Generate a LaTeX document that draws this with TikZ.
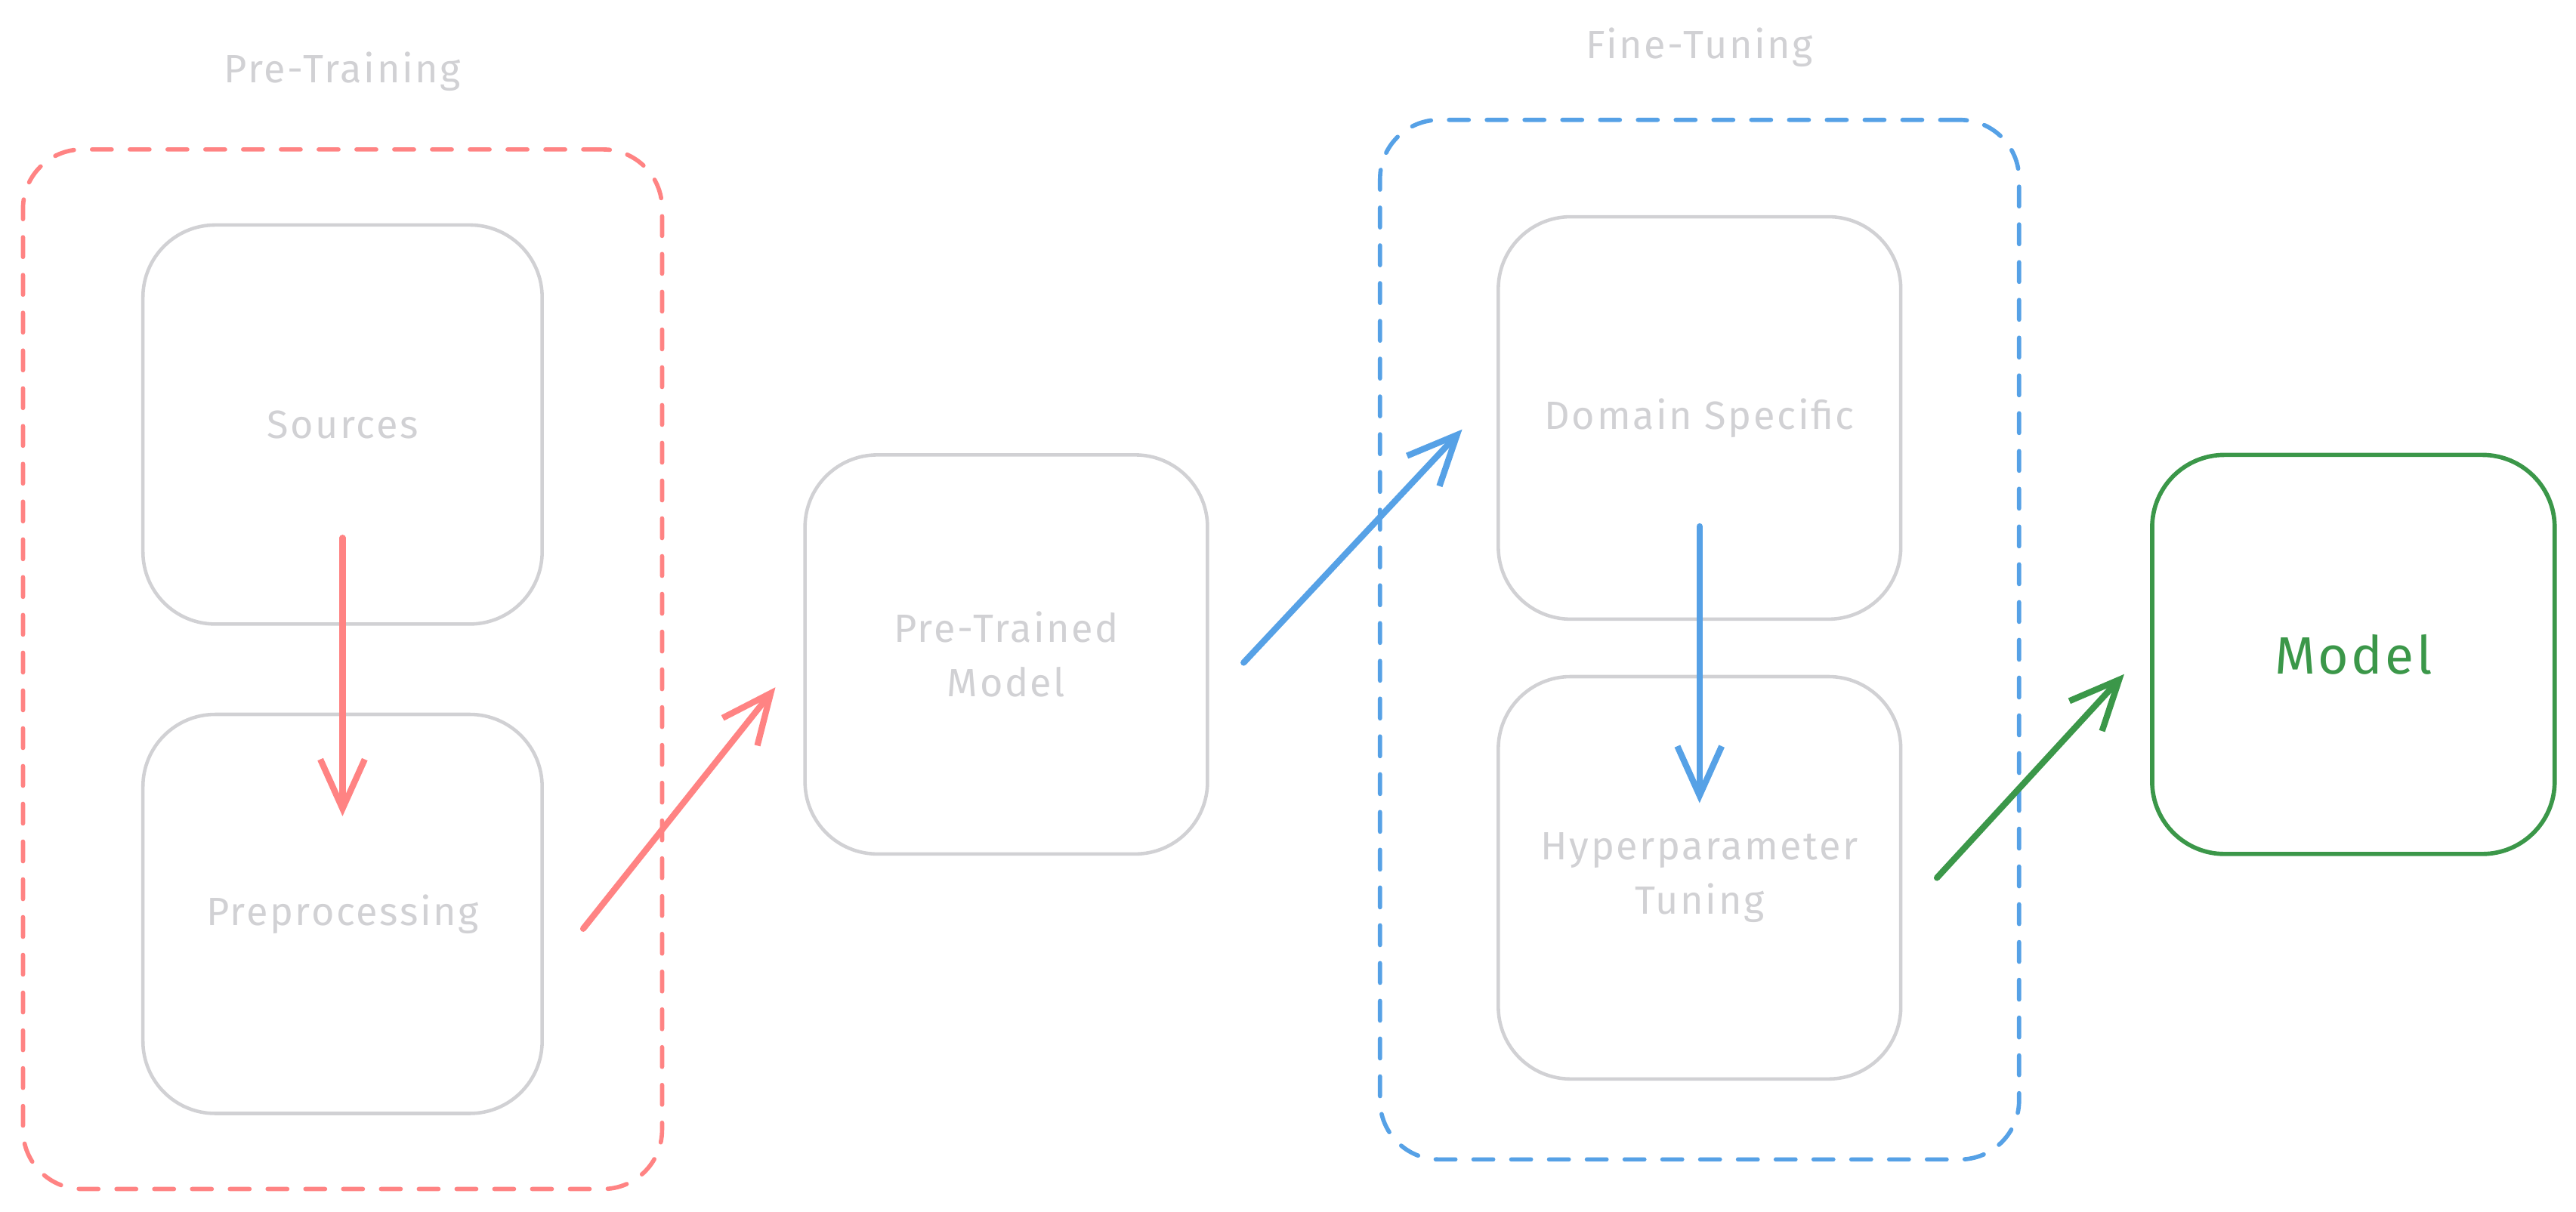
\documentclass[tikz,border=0pt]{standalone}
\usepackage{fontspec}
\setmainfont{Fira Sans}[LetterSpace=5]
\usetikzlibrary{arrows.meta, positioning, fit}
\definecolor{softgray}{RGB}{209,209,212}
\definecolor{softred}{RGB}{255,131,131}
\definecolor{softblue}{RGB}{86,161,230}
\definecolor{darkgreen}{RGB}{59,151,73}

\begin{document}
\begin{tikzpicture}[x=1pt, y=-1pt, line cap=round,
    >={Straight Barb[length=30pt, width=27pt]},
    box/.style={draw=softgray, line width=2.1pt, rounded corners=44pt,
        minimum width=243pt, minimum height=243pt, outer sep=0pt,
        text=softgray, font=\fontsize{24}{33}\selectfont, align=center},
    goal/.style={box, draw=darkgreen, text=darkgreen, line width=2.6pt,
        font=\fontsize{32}{36}\selectfont},
    group/.style={draw=#1, line width=2.6pt, rounded corners=36pt,
        dash pattern=on 12pt off 11pt},
    title/.style={text=softgray, font=\fontsize{24}{28}\selectfont},
    flow/.style={->, draw=#1, line width=3.8pt}]
    \useasboundingbox (0,0) rectangle (1568,738);

    \node[box] (src) at (208.5,258.5) {Sources};
    \node[box, below=55pt of src] (prep) {Preprocessing};
    \node[box, minimum width=245pt] (ptm) at (612.5,398.5) {Pre-Trained\\Model};
    \node[box, minimum width=245pt, minimum height=245pt] (dom) at (1034.5,254.5) {Domain Specific};
    \node[box, minimum width=245pt, minimum height=245pt, below=35pt of dom] (hyp) {Hyperparameter\\Tuning};
    \node[goal, minimum width=245pt, right=575pt of ptm] (model) {Model};

    \node[group=softred, fit=(src)(prep), inner xsep=73pt, inner ysep=46pt] (pt) {};
    \node[group=softblue, fit=(dom)(hyp), inner xsep=72pt, inner ysep=54pt, yshift=5pt] (ft) {};
    \node[title] (pttitle) at ([yshift=46pt]pt.north) {Pre-Training};
    \node[title] (fttitle) at ([yshift=43pt]ft.north) {Fine-Tuning};

    \draw[flow=softred] ([yshift=-69pt]src.center) -- ([yshift=-62pt]prep.north);
    \draw[flow=softred] ([xshift=25pt, yshift=-9pt]prep.east) -- ([xshift=-18pt, yshift=-20pt]ptm.west);
    \draw[flow=softblue] ([xshift=22pt, yshift=-5pt]ptm.east) -- ([xshift=-22pt, yshift=-7pt]dom.west);
    \draw[flow=softblue] ([yshift=-66pt]dom.center) -- ([yshift=-77pt]hyp.north);
    \draw[flow=darkgreen] ([xshift=22pt]hyp.east) -- ([xshift=-17pt, yshift=-12pt]model.west);
\end{tikzpicture}
\end{document}
